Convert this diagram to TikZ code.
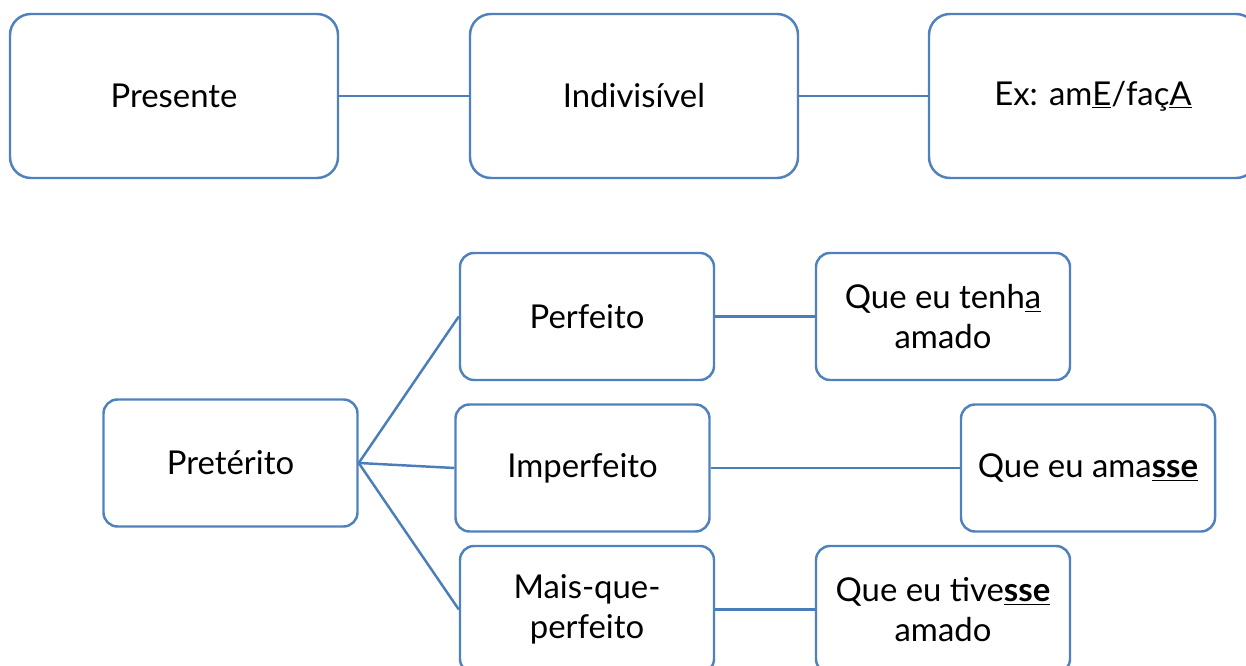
\documentclass[tikz,border=0pt]{standalone}
\usepackage{fontspec}
\setmainfont{Lato}
\usepackage{tikz}
\usetikzlibrary{shapes.geometric, arrows, positioning}
\definecolor{boxblue}{HTML}{4F81BD}
\definecolor{lineblue}{HTML}{4A7EBB}
\tikzstyle{bigbox} = [rectangle, rounded corners=0.42cm, minimum width=6.56cm, minimum height=3.28cm, text centered, draw=boxblue, line width=1.4pt, font=\fontsize{18.7}{23}\selectfont]
\tikzstyle{box} = [rectangle, rounded corners=0.28cm, minimum width=5.08cm, minimum height=2.54cm, align=center, draw=boxblue, line width=1.4pt, font=\fontsize{18.7}{23}\selectfont]
\tikzstyle{line} = [line width=1.4pt, draw=lineblue, -]

\begin{document}
\begin{tikzpicture}
          \useasboundingbox (0,0) rectangle (24.92,13.32);
          \clip (0,0) rectangle (24.92,13.32);
          \node (pres) [bigbox] at (3.48,11.40) {Presente};
          \node (indiv) [bigbox] at (12.68,11.40) {Indivisível};
          \node (ex) [bigbox] at (21.86,11.40) {Ex: am\underline{E}/faç\underline{A}};
          \node (pret) [box] at (4.61,4.06) {Pretérito};
          \node (perf) [box] at (11.74,6.99) {Perfeito};
          \node (imperf) [box] at (11.65,3.96) {Imperfeito};
          \node (mais) [box] at (11.74,1.13) {Mais-que-\\perfeito};
          \node (tenha) [box] at (18.86,6.99) {Que eu tenh\underline{a}\\amado};
          \node (amasse) [box] at (21.76,3.96) {Que eu ama\underline{\textbf{sse}}};
          \node (tivesse) [box] at (18.86,1.13) {Que eu tive\underline{\textbf{sse}}\\amado};
          \draw [line] (pres) -- (indiv);
          \draw [line] (indiv) -- (ex);
          \draw [line] (pret.east) -- (perf.west);
          \draw [line] (pret.east) -- (imperf.west);
          \draw [line] (pret.east) -- (mais.west);
          \draw [line] (perf) -- (tenha);
          \draw [line] (imperf) -- (amasse);
          \draw [line] (mais) -- (tivesse);
        \end{tikzpicture}
\end{document}
